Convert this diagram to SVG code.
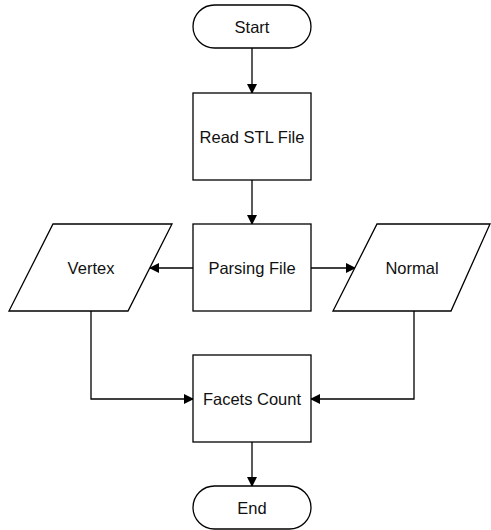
<svg xmlns="http://www.w3.org/2000/svg" width="491" height="530" viewBox="0 0 491 530">
<defs>
<style>
.s{fill:#fff;stroke:#000;stroke-width:1.3}
.t{font-family:"Liberation Sans",Arial,sans-serif;font-size:16.5px;fill:#111;text-anchor:middle;dominant-baseline:central}
.c{fill:none;stroke:#000;stroke-width:1.3}
</style>
<marker id="a" markerWidth="10" markerHeight="10" refX="9" refY="5" orient="auto" markerUnits="userSpaceOnUse">
<path d="M0,0 L10,5 L0,10 Z" fill="#000"/>
</marker>
</defs>
<rect width="491" height="530" fill="#fff"/>
<g id="connectors">
<path class="c" d="M252,48 V93" marker-end="url(#a)"/>
<path class="c" d="M252,180 V224" marker-end="url(#a)"/>
<path class="c" d="M193,268 H150" marker-end="url(#a)"/>
<path class="c" d="M311,268 H355" marker-end="url(#a)"/>
<path class="c" d="M91,311 V399 H193" marker-end="url(#a)"/>
<path class="c" d="M414,311 V399 H311" marker-end="url(#a)"/>
<path class="c" d="M252,442 V486" marker-end="url(#a)"/>
</g>
<g id="start">
<rect class="s" x="193" y="5" width="118" height="43" rx="21.5"/>
<text class="t" x="252" y="27">Start</text>
</g>
<g id="read">
<rect class="s" x="193" y="93" width="118" height="87"/>
<text class="t" x="252" y="137">Read STL File</text>
</g>
<g id="parse">
<rect class="s" x="193" y="224" width="118" height="87"/>
<text class="t" x="252" y="268">Parsing File</text>
</g>
<g id="vertex">
<polygon class="s" points="53,224 172,224 128,311 9,311"/>
<text class="t" x="91" y="268">Vertex</text>
</g>
<g id="normal">
<polygon class="s" points="377,224 490,224 451,311 333,311"/>
<text class="t" x="412" y="268">Normal</text>
</g>
<g id="facets">
<rect class="s" x="193" y="355" width="118" height="87"/>
<text class="t" x="252" y="399">Facets Count</text>
</g>
<g id="end">
<rect class="s" x="193" y="486" width="118" height="43" rx="21.5"/>
<text class="t" x="252" y="508">End</text>
</g>
</svg>
